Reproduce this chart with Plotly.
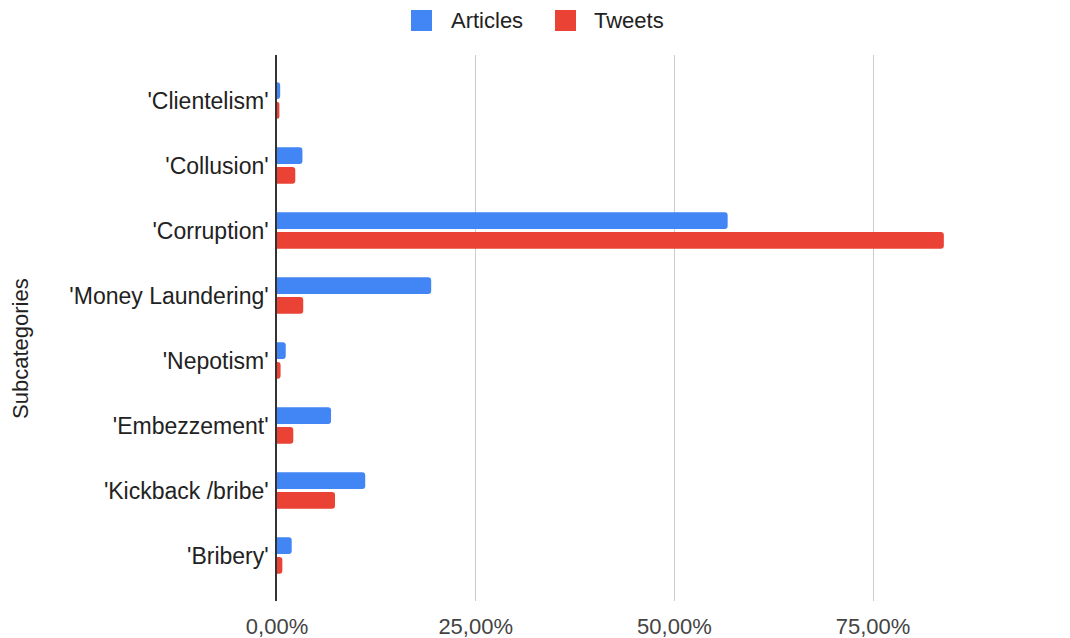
import plotly.graph_objects as go

categories = ["'Clientelism'", "'Collusion'", "'Corruption'", "'Money Laundering'",
              "'Nepotism'", "'Embezzement'", "'Kickback /bribe'", "'Bribery'"]
articles = [0.004, 0.032, 0.567, 0.194, 0.011, 0.068, 0.111, 0.0185]
tweets = [0.003, 0.023, 0.839, 0.033, 0.0045, 0.0205, 0.073, 0.0067]
series_names = ["Articles", "Tweets"]
colors = ["#4285F4", "#EA4335"]
x_ticks = [0, 0.25, 0.5, 0.75]

# page body has an 8px margin; figure is sized/positioned to compensate
OFF = 8
W, H = 1070 - OFF, 638 - OFF
L, T = 277 - OFF, 55 - OFF
R, B = 0, 638 - 601
PW, PH = W - L - R, H - T - B

fig = go.Figure()
for name, vals, col in zip(series_names, [articles, tweets], colors):
    fig.add_trace(go.Bar(
        y=categories, x=vals, name=name, orientation="h",
        marker=dict(color=col, line=dict(width=0)), showlegend=False,
    ))

def px_x(p):
    return (p - OFF - L) / PW

def px_y(p):
    return (T + PH - (p - OFF)) / PH

# legend drawn as shapes + text
legend_items = [(411, 449), (555, 592)]
for (sx, tx), name, col in zip(legend_items, series_names, colors):
    fig.add_shape(type="rect", xref="paper", yref="paper",
                  x0=px_x(sx), x1=px_x(sx + 21), y0=px_y(31), y1=px_y(10),
                  fillcolor=col, line=dict(width=0), layer="above")
    fig.add_annotation(xref="paper", yref="paper", x=px_x(tx), y=px_y(20.5),
                       xanchor="left", yanchor="middle", text=name, showarrow=False,
                       font=dict(family="Liberation Sans", size=22, color="#222222"))

fig.add_annotation(xref="paper", yref="paper", x=px_x(20), y=px_y(349),
                   xanchor="center", yanchor="middle", text="Subcategories",
                   textangle=-90, showarrow=False,
                   font=dict(family="Liberation Sans", size=22, color="#222222"))

fig.update_layout(
    width=W, height=H,
    margin=dict(l=L, r=R, t=T, b=B, autoexpand=False),
    paper_bgcolor="white", plot_bgcolor="white",
    barmode="group", bargap=0.39, bargroupgap=0.15,
    barcornerradius=3,
    separators=",.",
    font=dict(family="Liberation Sans", size=22, color="#222222"),
    xaxis=dict(range=[0, PW / 794.8], tickvals=x_ticks, tickformat=".2%",
               showgrid=True, gridcolor="#cccccc", gridwidth=1,
               zeroline=False, showline=False, ticks="",
               ticklabelstandoff=10,
               tickfont=dict(family="Liberation Sans", size=22, color="#444444")),
    yaxis=dict(categoryorder="array", categoryarray=categories,
               range=[7.7, -0.7], showgrid=False, zeroline=False,
               showline=True, linecolor="#333333", linewidth=1.5,
               ticks="", ticklabelstandoff=2,
               tickfont=dict(family="Liberation Sans", size=23, color="#222222")),
)

fig.write_html("out.html")
